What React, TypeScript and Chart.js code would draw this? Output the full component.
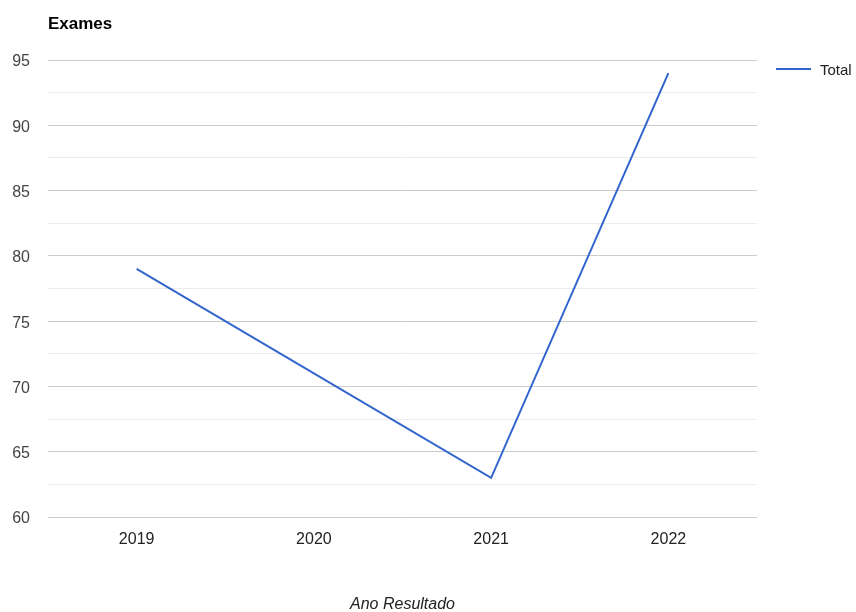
import React, { useEffect, useRef } from "react";
import { Chart, registerables } from "chart.js";

Chart.register(...registerables);

const years = ["2019", "2020", "2021", "2022"];
const totals = [79, 71, 63, 94];
const seriesName = "Total";
const chartTitle = "Exames";
const xAxisTitle = "Ano Resultado";
const yMin = 60;
const yMax = 95;

const FONT = "Arial, 'Liberation Sans', sans-serif";
const LINE_COLOR = "#3366cc";

// Draws the title, the right-hand legend and the horizontal axis title.
const decorations = {
  id: "decorations",
  afterDraw(chart: any) {
    const { ctx, chartArea } = chart;
    ctx.save();
    ctx.textBaseline = "middle";

    ctx.fillStyle = "#000";
    ctx.font = `bold 17px ${FONT}`;
    ctx.textAlign = "left";
    ctx.fillText(chartTitle, chartArea.left, 24);

    ctx.strokeStyle = LINE_COLOR;
    ctx.lineWidth = 2;
    ctx.beginPath();
    ctx.moveTo(776, 69);
    ctx.lineTo(811, 69);
    ctx.stroke();
    ctx.fillStyle = "#222";
    ctx.font = `15px ${FONT}`;
    ctx.fillText(seriesName, 820, 71);

    ctx.font = `italic 16px ${FONT}`;
    ctx.textAlign = "center";
    ctx.fillText(xAxisTitle, (chartArea.left + chartArea.right) / 2, 605);
    ctx.restore();
  },
};

export default function App() {
  const canvasRef = useRef<HTMLCanvasElement>(null);

  useEffect(() => {
    const canvas = canvasRef.current;
    if (!canvas) return;
    const chart = new Chart(canvas, {
      type: "line",
      data: {
        labels: years,
        datasets: [
          {
            label: seriesName,
            data: totals,
            borderColor: LINE_COLOR,
            backgroundColor: LINE_COLOR,
            borderWidth: 2,
            pointRadius: 0,
            pointHoverRadius: 0,
            tension: 0,
          },
        ],
      },
      options: {
        responsive: false,
        animation: false,
        layout: { padding: { left: 0, right: 99, top: 60, bottom: 0 } },
        plugins: {
          legend: { display: false },
          title: { display: false },
          tooltip: { enabled: false },
        },
        scales: {
          x: {
            offset: true,
            grid: { display: false, drawTicks: false },
            border: { display: false },
            ticks: {
              color: "#222",
              font: { family: FONT, size: 16 },
              padding: 13,
              maxRotation: 0,
            },
            afterFit(scale: any) {
              scale.height = 95;
            },
          },
          y: {
            min: yMin,
            max: yMax,
            grid: {
              drawTicks: false,
              color: (c: any) =>
                c.tick && c.tick.value % 5 === 0 ? "#cccccc" : "#ebebeb",
              lineWidth: 1,
            },
            border: { display: false },
            ticks: {
              stepSize: 2.5,
              autoSkip: false,
              color: "#444",
              font: { family: FONT, size: 16 },
              padding: 18,
              labelOffset: 2,
              callback: (v: any) => (Number(v) % 5 === 0 ? String(v) : ""),
            },
            afterFit(scale: any) {
              scale.width = 48;
            },
          },
        },
      },
      plugins: [decorations],
    });
    return () => chart.destroy();
  }, []);

  return (
    <div
      style={{
        position: "fixed",
        left: 0,
        top: 0,
        width: 856,
        height: 612,
        background: "#fff",
      }}
    >
      <canvas ref={canvasRef} width={856} height={612} style={{ display: "block" }} />
    </div>
  );
}
